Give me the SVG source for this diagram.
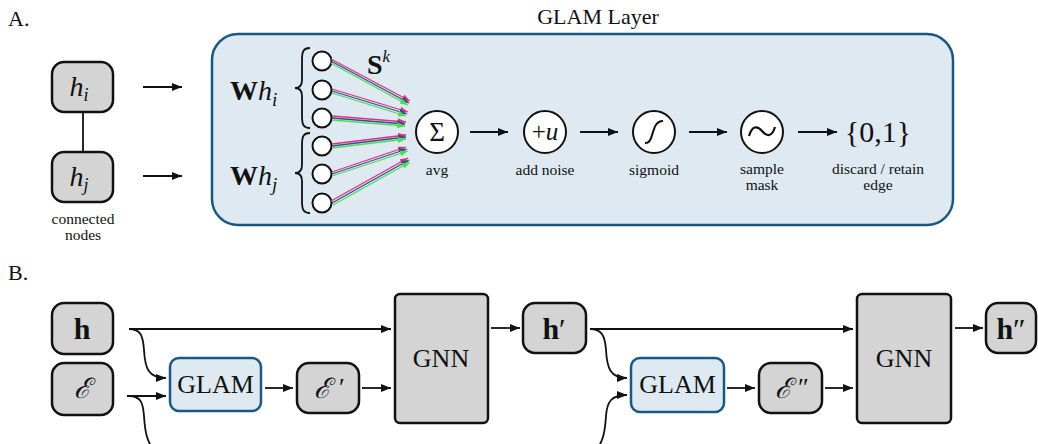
<svg xmlns="http://www.w3.org/2000/svg" width="1038" height="444" viewBox="0 0 1038 444">
<style>
.serif{font-family:"Liberation Serif","DejaVu Serif",serif;fill:#111}
.lbl{font-size:15.5px;text-anchor:middle}
.node{fill:#d4d4d4;stroke:#111;stroke-width:2.5}
.glam{fill:#dfe9f1;stroke:#1b5784;stroke-width:2.5}
.op{fill:#fff;stroke:#111;stroke-width:2}
.ar{fill:none;stroke:#111;stroke-width:1.8;marker-end:url(#ah)}
.cn{fill:none;stroke:#111;stroke-width:1.8}
.pk{stroke:#e0307a;stroke-width:1.3;marker-end:url(#mp)}
.bl{stroke:#2a4f9a;stroke-width:1.3;marker-end:url(#mb)}
.gr{stroke:#4fdc4f;stroke-width:1.3;marker-end:url(#mg)}
</style>
<defs>
<marker id="ah" viewBox="0 0 10 8" refX="10" refY="4" markerWidth="10" markerHeight="8" markerUnits="userSpaceOnUse" orient="auto"><path d="M0,0 L10,4 L0,8 z" fill="#111"/></marker>
<marker id="mp" viewBox="0 0 8 6" refX="8" refY="3" markerWidth="8" markerHeight="6" markerUnits="userSpaceOnUse" orient="auto"><path d="M0,0 L8,3 L0,6 z" fill="#e0307a"/></marker>
<marker id="mb" viewBox="0 0 8 6" refX="8" refY="3" markerWidth="8" markerHeight="6" markerUnits="userSpaceOnUse" orient="auto"><path d="M0,0 L8,3 L0,6 z" fill="#2a4f9a"/></marker>
<marker id="mg" viewBox="0 0 8 6" refX="8" refY="3" markerWidth="8" markerHeight="6" markerUnits="userSpaceOnUse" orient="auto"><path d="M0,0 L8,3 L0,6 z" fill="#4fdc4f"/></marker>
</defs>
<rect width="1038" height="444" fill="#fff"/>

<!-- Part A -->
<text class="serif" x="8" y="26" font-size="22">A.</text>
<text class="serif" x="598" y="24" font-size="22" text-anchor="middle">GLAM Layer</text>

<g id="glam-layer">
<rect x="212" y="34" width="741" height="191" rx="26" class="glam"/>
</g>

<g id="node-hi">
<rect x="52" y="62" width="61" height="50" rx="12" class="node"/>
<text class="serif" x="79" y="96" font-size="28" font-style="italic" text-anchor="middle">h<tspan font-size="18" dy="5">i</tspan></text>
</g>
<g id="node-hj">
<rect x="52" y="152" width="61" height="50" rx="12" class="node"/>
<text class="serif" x="79" y="186" font-size="28" font-style="italic" text-anchor="middle">h<tspan font-size="18" dy="5">j</tspan></text>
</g>
<text class="serif lbl" x="83" y="224">connected</text>
<text class="serif lbl" x="83" y="240">nodes</text>

<g id="Whi">
<text class="serif" x="230" y="100" font-size="28"><tspan font-weight="bold">W</tspan><tspan font-style="italic">h</tspan><tspan font-size="19" font-style="italic" dy="6">i</tspan></text>
<path d="M310,48 C303,48 302,52 302,60 L302,80 C302,85 300,88 295,88 C300,88 302,91 302,96 L302,116 C302,124 303,128 310,128" class="cn"/>
<circle cx="322" cy="61" r="9.5" class="op"/>
<circle cx="322" cy="90" r="9.5" class="op"/>
<circle cx="322" cy="118" r="9.5" class="op"/>
</g>
<g id="Whj">
<text class="serif" x="230" y="185" font-size="28"><tspan font-weight="bold">W</tspan><tspan font-style="italic">h</tspan><tspan font-size="19" font-style="italic" dy="6">j</tspan></text>
<path d="M310,133 C303,133 302,137 302,145 L302,165 C302,170 300,173 295,173 C300,173 302,176 302,181 L302,201 C302,209 303,213 310,213" class="cn"/>
<circle cx="322" cy="146" r="9.5" class="op"/>
<circle cx="322" cy="174" r="9.5" class="op"/>
<circle cx="322" cy="203" r="9.5" class="op"/>
</g>
<text class="serif" x="367" y="74" font-size="28" font-weight="bold">S<tspan font-size="17" font-weight="normal" font-style="italic" dy="-12">k</tspan></text>

<g id="weights">
<line x1="331" y1="59" x2="410" y2="101" class="pk"/><line x1="331" y1="61" x2="409" y2="103" class="bl"/><line x1="331" y1="63" x2="408" y2="105" class="gr"/>
<line x1="332" y1="89" x2="408" y2="112" class="pk"/><line x1="332" y1="91" x2="407" y2="114" class="bl"/><line x1="332" y1="93" x2="406" y2="116" class="gr"/>
<line x1="332" y1="116" x2="406" y2="122" class="pk"/><line x1="332" y1="118" x2="405" y2="124" class="bl"/><line x1="332" y1="120" x2="405" y2="126" class="gr"/>
<line x1="332" y1="144" x2="406" y2="135" class="pk"/><line x1="332" y1="146" x2="406" y2="137" class="bl"/><line x1="332" y1="148" x2="406" y2="139" class="gr"/>
<line x1="332" y1="172" x2="406" y2="147" class="pk"/><line x1="332" y1="174" x2="407" y2="149" class="bl"/><line x1="332" y1="176" x2="408" y2="151" class="gr"/>
<line x1="331" y1="201" x2="408" y2="158" class="pk"/><line x1="332" y1="203" x2="409" y2="160" class="bl"/><line x1="333" y1="205" x2="410" y2="162" class="gr"/>
</g>

<g id="avg">
<circle cx="437" cy="132" r="21" class="op"/>
<text class="serif" x="437" y="141" font-size="27" text-anchor="middle">Σ</text>
<text class="serif lbl" x="437" y="175">avg</text>
</g>
<g id="noise">
<circle cx="545" cy="132" r="21" class="op"/>
<text class="serif" x="545" y="140" font-size="25" text-anchor="middle">+<tspan font-style="italic">u</tspan></text>
<text class="serif lbl" x="545" y="175">add noise</text>
</g>
<g id="sigmoid">
<circle cx="654" cy="132" r="21" class="op"/>
<path d="M645,143 C655,144 650,121 663,121" fill="none" stroke="#111" stroke-width="2"/>
<text class="serif lbl" x="654" y="175">sigmoid</text>
</g>
<g id="sample">
<circle cx="762" cy="132" r="21" class="op"/>
<path d="M749,136 C752,126 757,125 762,131 C767,137 772,137 775,127" fill="none" stroke="#111" stroke-width="2.2"/>
<text class="serif lbl" x="762" y="174">sample</text>
<text class="serif lbl" x="762" y="190">mask</text>
</g>
<g id="output">
<text class="serif" x="878" y="142" font-size="30" text-anchor="middle">{0,1}</text>
<text class="serif lbl" x="878" y="174">discard / retain</text>
<text class="serif lbl" x="878" y="190">edge</text>
</g>

<g id="connectors-a">
<line x1="83" y1="112" x2="83" y2="152" class="cn"/>
<line x1="143" y1="87" x2="182" y2="87" class="ar"/>
<line x1="143" y1="176" x2="182" y2="176" class="ar"/>
<line x1="470" y1="132" x2="508" y2="132" class="ar"/>
<line x1="580" y1="132" x2="618" y2="132" class="ar"/>
<line x1="689" y1="132" x2="727" y2="132" class="ar"/>
<line x1="798" y1="132" x2="837" y2="132" class="ar"/>
</g>

<!-- Part B -->
<text class="serif" x="8" y="280" font-size="22">B.</text>

<g id="node-h">
<rect x="52" y="303" width="61" height="51" rx="12" class="node"/>
<text class="serif" x="82" y="339" font-size="30" font-weight="bold" text-anchor="middle">h</text>
</g>
<g id="node-E">
<rect x="52" y="363" width="61" height="52" rx="12" class="node"/>
<text class="serif" x="82" y="398" font-size="28" font-style="italic" text-anchor="middle">ℰ</text>
</g>
<g id="glam1">
<rect x="170" y="358" width="91" height="53" rx="9" class="glam"/>
<text class="serif" x="215.5" y="393" font-size="26" text-anchor="middle">GLAM</text>
</g>
<g id="node-E1">
<rect x="297" y="363" width="62" height="50" rx="12" class="node"/>
<text class="serif" x="322" y="398" font-size="28" font-style="italic" text-anchor="middle">ℰ</text>
<text class="serif" x="339" y="396" font-size="26">′</text>
</g>
<g id="gnn1">
<rect x="395" y="294" width="93" height="129" rx="5" class="node"/>
<text class="serif" x="441" y="367" font-size="26" text-anchor="middle">GNN</text>
</g>
<g id="node-h1">
<rect x="523" y="303" width="63" height="50" rx="12" class="node"/>
<text class="serif" x="554" y="339" font-size="30" text-anchor="middle"><tspan font-weight="bold">h</tspan>′</text>
</g>
<g id="glam2">
<rect x="631" y="358" width="93" height="54" rx="9" class="glam"/>
<text class="serif" x="677.5" y="393" font-size="26" text-anchor="middle">GLAM</text>
</g>
<g id="node-E2">
<rect x="759" y="363" width="63" height="50" rx="12" class="node"/>
<text class="serif" x="783" y="398" font-size="28" font-style="italic" text-anchor="middle">ℰ</text>
<text class="serif" x="798" y="396" font-size="26">″</text>
</g>
<g id="gnn2">
<rect x="857" y="294" width="94" height="129" rx="5" class="node"/>
<text class="serif" x="904" y="367" font-size="26" text-anchor="middle">GNN</text>
</g>
<g id="node-h2">
<rect x="986" y="303" width="50" height="50" rx="12" class="node"/>
<text class="serif" x="1011" y="339" font-size="30" text-anchor="middle"><tspan font-weight="bold">h</tspan>″</text>
</g>

<g id="connectors-b">
<line x1="129" y1="329" x2="391" y2="329" class="ar"/>
<path d="M129,329 C141,329 143,336 144,350 C145,368 148,378 166,378" class="ar"/>
<line x1="127" y1="396" x2="166" y2="396" class="ar"/>
<path d="M129,396 C141,396 143,403 144,416 C145,432 147,442 154,450" class="cn"/>
<line x1="265" y1="388" x2="293" y2="388" class="ar"/>
<line x1="362" y1="388" x2="391" y2="388" class="ar"/>
<line x1="491" y1="328" x2="520" y2="328" class="ar"/>
<line x1="590" y1="329" x2="853" y2="329" class="ar"/>
<path d="M590,329 C602,329 605,336 606,350 C607,368 610,378 627,378" class="ar"/>
<path d="M596,450 C603,442 605,432 606,416 C607,402 611,395 627,395" class="ar"/>
<line x1="727" y1="388" x2="755" y2="388" class="ar"/>
<line x1="825" y1="388" x2="853" y2="388" class="ar"/>
<line x1="955" y1="328" x2="983" y2="328" class="ar"/>
</g>
</svg>
